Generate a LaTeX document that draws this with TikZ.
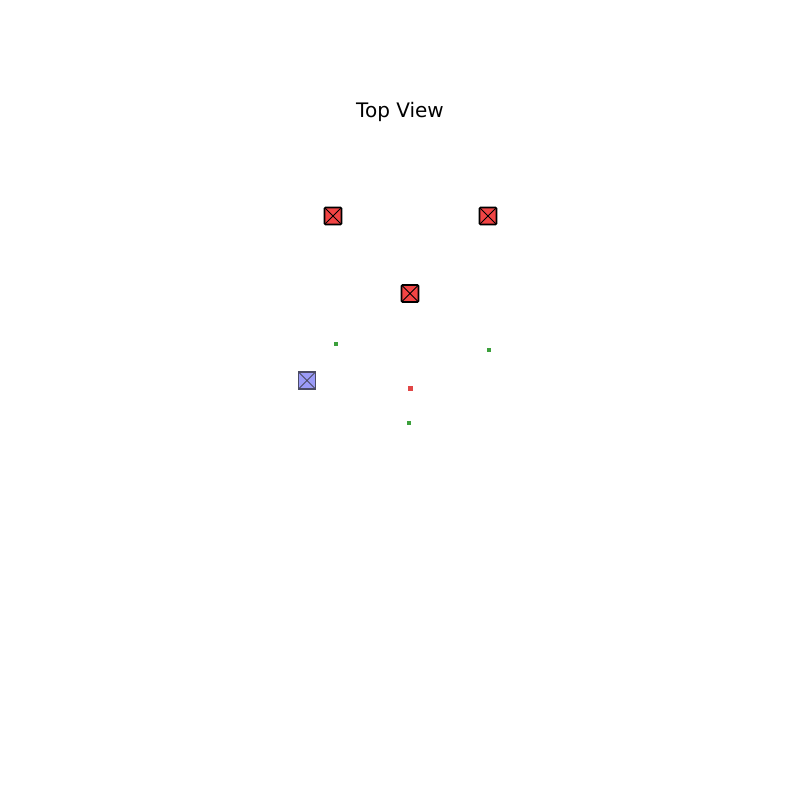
\documentclass[tikz,border=0pt]{standalone}
\usepackage{fontspec}
\setmainfont{DejaVu Sans}
\definecolor{redfill}{RGB}{242,68,68}
\definecolor{bluefill}{RGB}{155,155,248}
\definecolor{blueedge}{RGB}{75,75,100}
\definecolor{greendot}{RGB}{60,160,60}
\definecolor{reddot}{RGB}{225,70,70}
\begin{document}
\begin{tikzpicture}[x=1pt,y=-1pt,
  redbox/.style={draw=black,line width=1.7pt,fill=redfill,minimum size=17pt,inner sep=0pt,rounded corners=1pt,path picture={\draw[black,line width=1pt] (path picture bounding box.north west)--(path picture bounding box.south east) (path picture bounding box.north east)--(path picture bounding box.south west);}},
  bluebox/.style={draw=blueedge,line width=1.4pt,fill=bluefill,minimum size=17pt,inner sep=0pt,path picture={\draw[blueedge,line width=0.8pt] (path picture bounding box.north west)--(path picture bounding box.south east) (path picture bounding box.north east)--(path picture bounding box.south west);}},
  gdot/.style={fill=greendot,minimum size=4pt,inner sep=0pt},
  rdot/.style={fill=reddot,minimum size=4.2pt,inner sep=0pt}]
\useasboundingbox (0,0) rectangle (800,800);
\node[font=\fontsize{20}{24}\selectfont] (title) at (400,112) {Top View};
\node[redbox] (r1) at (333,216) {};
\node[redbox] (r2) at (488,216) {};
\node[redbox] (r3) at (410,293.5) {};
\node[bluebox] (b1) at (307,380.5) {};
\node[gdot] (g1) at (336,343.5) {};
\node[gdot] (g2) at (489,349.5) {};
\node[gdot] (g3) at (409,422.5) {};
\node[rdot] (d1) at (410.5,388.5) {};
\end{tikzpicture}
\end{document}
